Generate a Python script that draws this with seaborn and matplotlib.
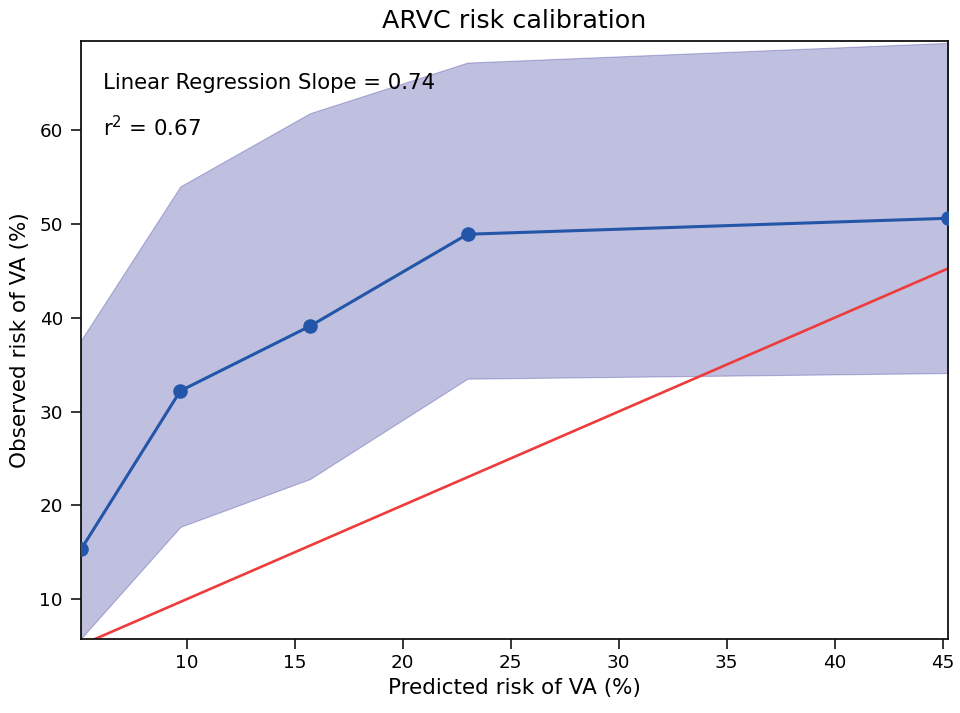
import numpy as np
import pandas as pd
import matplotlib
matplotlib.use("Agg")
import matplotlib.pyplot as plt
import seaborn as sns

# Calibration bins: mean predicted risk vs observed risk (%)
predicted = [5.1, 9.7, 15.7, 23.0, 45.25]
observed = [15.3, 32.2, 39.1, 48.9, 50.6]
ci_lower = [5.8, 17.7, 22.8, 33.5, 34.1]
ci_upper = [37.6, 54.0, 61.8, 67.2, 69.3]

slope = 0.74
r_squared = 0.67

sns.set_style("ticks")
plt.rcParams["font.family"] = ["DejaVu Sans"]
plt.rcParams["text.color"] = "black"
plt.rcParams["axes.labelcolor"] = "black"
plt.rcParams["xtick.color"] = "black"
plt.rcParams["ytick.color"] = "black"

df = pd.DataFrame({"predicted": predicted, "observed": observed})
ident = pd.DataFrame({"x": [predicted[0], predicted[-1]],
                      "y": [predicted[0], predicted[-1]]})

fig = plt.figure(figsize=(9.6, 7.13), dpi=100)
ax = fig.add_axes([81 / 960, 1 - 639 / 713, 867 / 960, 598 / 713])

ax.fill_between(predicted, ci_lower, ci_upper, color="navy", alpha=0.25,
                linewidth=0.8, edgecolor=(0.0, 0.0, 0.5, 0.15), zorder=1)
sns.lineplot(data=ident, x="x", y="y", ax=ax, color="#ee3b3b",
             linewidth=1.9, zorder=2)
sns.lineplot(data=df, x="predicted", y="observed", ax=ax, color="#2356a8",
             linewidth=2.2, marker="o", markersize=10.5, markeredgewidth=0,
             zorder=3)

ax.set_xlim(predicted[0], predicted[-1])
ax.set_ylim(5.75, 69.5)
ax.set_xticks([10, 15, 20, 25, 30, 35, 40, 45])
ax.set_yticks([10, 20, 30, 40, 50, 60])

ax.text(0.025, 0.93, f"Linear Regression Slope = {slope:.2f}",
        transform=ax.transAxes, fontsize=15.3, va="center")
ax.text(0.025, 0.855, f"r$^2$ = {r_squared:.2f}",
        transform=ax.transAxes, fontsize=15.3, va="center")

ax.set_title("ARVC risk calibration", fontsize=18.3, pad=9)
ax.set_xlabel("Predicted risk of VA (%)", fontsize=15.5, labelpad=4)
ax.set_ylabel("Observed risk of VA (%)", fontsize=15.5, labelpad=7)
ax.tick_params(labelsize=13.2, length=7, width=1.1)
ax.tick_params(axis="x", pad=4)
ax.tick_params(axis="y", pad=6)
for s in ax.spines.values():
    s.set_linewidth(1.3)
    s.set_color("#111111")

fig.savefig("out.png", dpi=100)
